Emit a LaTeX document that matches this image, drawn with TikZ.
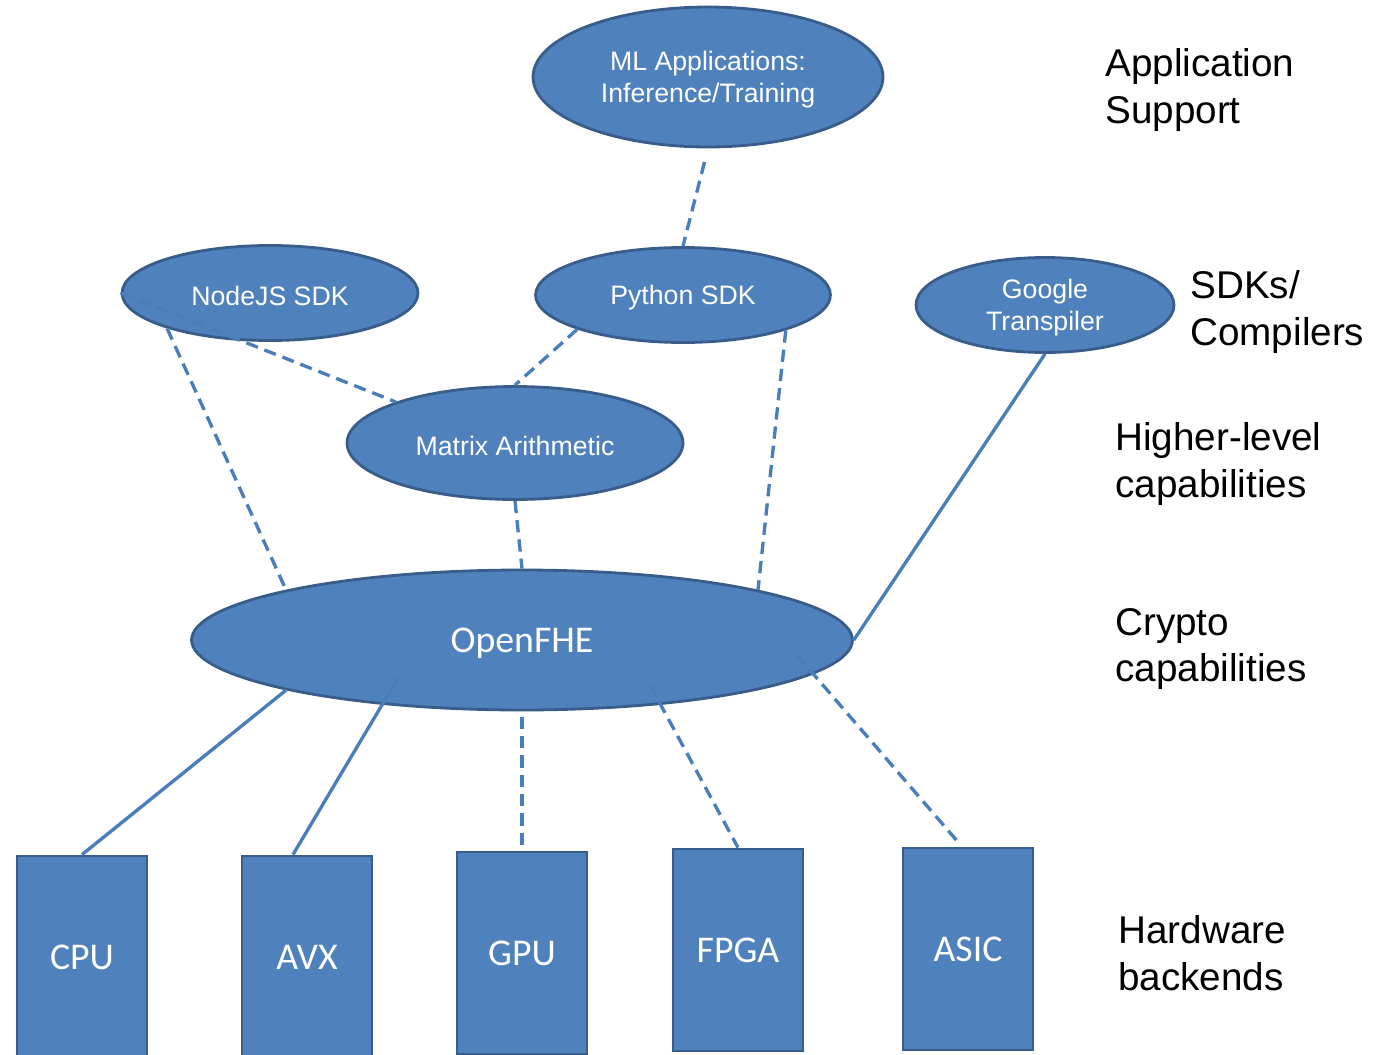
\documentclass[tikz,border=0pt]{standalone}
\usepackage{fontspec}
\setmainfont{Liberation Sans}
\newfontfamily\calibri{Carlito}
\usetikzlibrary{shapes.geometric,calc}

\definecolor{boxblue}{HTML}{4F81BD}
\definecolor{rimblue}{HTML}{385D8A}
\definecolor{linkblue}{HTML}{4A7EBB}

\newcommand{\lift}{\rule{0pt}{14.5pt}}

\begin{document}
\begin{tikzpicture}[x=0.02cm, y=-0.02cm,
	oval/.style={ellipse, draw=rimblue, fill=boxblue, line width=1.6pt, inner sep=0pt, text=white, align=center, font=\fontsize{15.2}{18.2}\selectfont},
	hw/.style={rectangle, draw=rimblue, fill=boxblue, line width=1.6pt, minimum width=2.6cm, minimum height=4.04cm, inner sep=0pt, text=white, font=\calibri\fontsize{21.5}{25}\selectfont},
	layer/.style={anchor=west, align=left, inner sep=0pt, font=\fontsize{22}{26.6}\selectfont},
	link/.style={draw=linkblue, line width=1.9pt},
	dlink/.style={link, dash pattern=on 7pt off 4pt}]
	\useasboundingbox (0,0) rectangle (1373,1055);
	\clip (0,0) rectangle (1373,1055);
	\node[oval, minimum width=7cm, minimum height=2.8cm] (ML) at (708,77) {\lift ML Applications:\\Inference/Training};
	\node[oval, minimum width=5.92cm, minimum height=1.9cm] (NJ) at (270,293) {\lift NodeJS SDK};
	\node[oval, minimum width=5.9cm, minimum height=1.9cm] (PY) at (683,295) {\lift Python SDK};
	\node[oval, minimum width=5.16cm, minimum height=1.9cm] (GT) at (1045,305) {\lift Google\\Transpiler};
	\node[oval, minimum width=6.72cm, minimum height=2.26cm] (MA) at (515,443) {\lift Matrix Arithmetic};
	\node[oval, minimum width=13.22cm, minimum height=2.8cm, font=\calibri\fontsize{21.5}{25}\selectfont] (FHE) at (522,640) {\rule{0pt}{17.5pt}OpenFHE};
	\node[hw] (CPU) at (82,957) {CPU};
	\node[hw] (AVX) at (307,957) {AVX};
	\node[hw] (GPU) at (522,953) {GPU};
	\node[hw] (FPGA) at (738,950) {FPGA};
	\node[hw] (ASIC) at (968,949) {ASIC};
	\node[layer] (L1) at (1105,90) {Application\\Support};
	\node[layer] (L2) at (1190,312) {SDKs/\\Compilers};
	\node[layer] (L3) at (1115,464) {Higher-level\\capabilities};
	\node[layer] (L4) at (1115,649) {Crypto\\capabilities};
	\node[layer] (L5) at (1118,953) {Hardware\\backends};
	\draw[dlink, shorten <=8pt] (ML.south) -- (PY.north);
	\draw[dlink] (NJ.west) -- (MA.161);
	\draw[dlink] (NJ.199) -- (FHE.168);
	\draw[dlink] (PY.198) -- (MA.north);
	\draw[dlink] (PY.341) -- (FHE.12);
	\draw[dlink] (MA.south) -- (FHE.north);
	\draw[link] (GT.south) -- (FHE.east);
	\draw[link] (FHE.192) -- (CPU.north);
	\draw[link] ($(FHE)+(-124,38)$) -- ($(AVX.north)+(-14,0)$);
	\draw[dlink, shorten <=3pt] (FHE.south) -- (GPU.north);
	\draw[dlink] ($(FHE)+(128,45)$) -- (FPGA.north);
	\draw[dlink, shorten >=4pt] ($(FHE)+(275,15)$) -- ($(ASIC.north)+(-6,0)$);
\end{tikzpicture}
\end{document}
